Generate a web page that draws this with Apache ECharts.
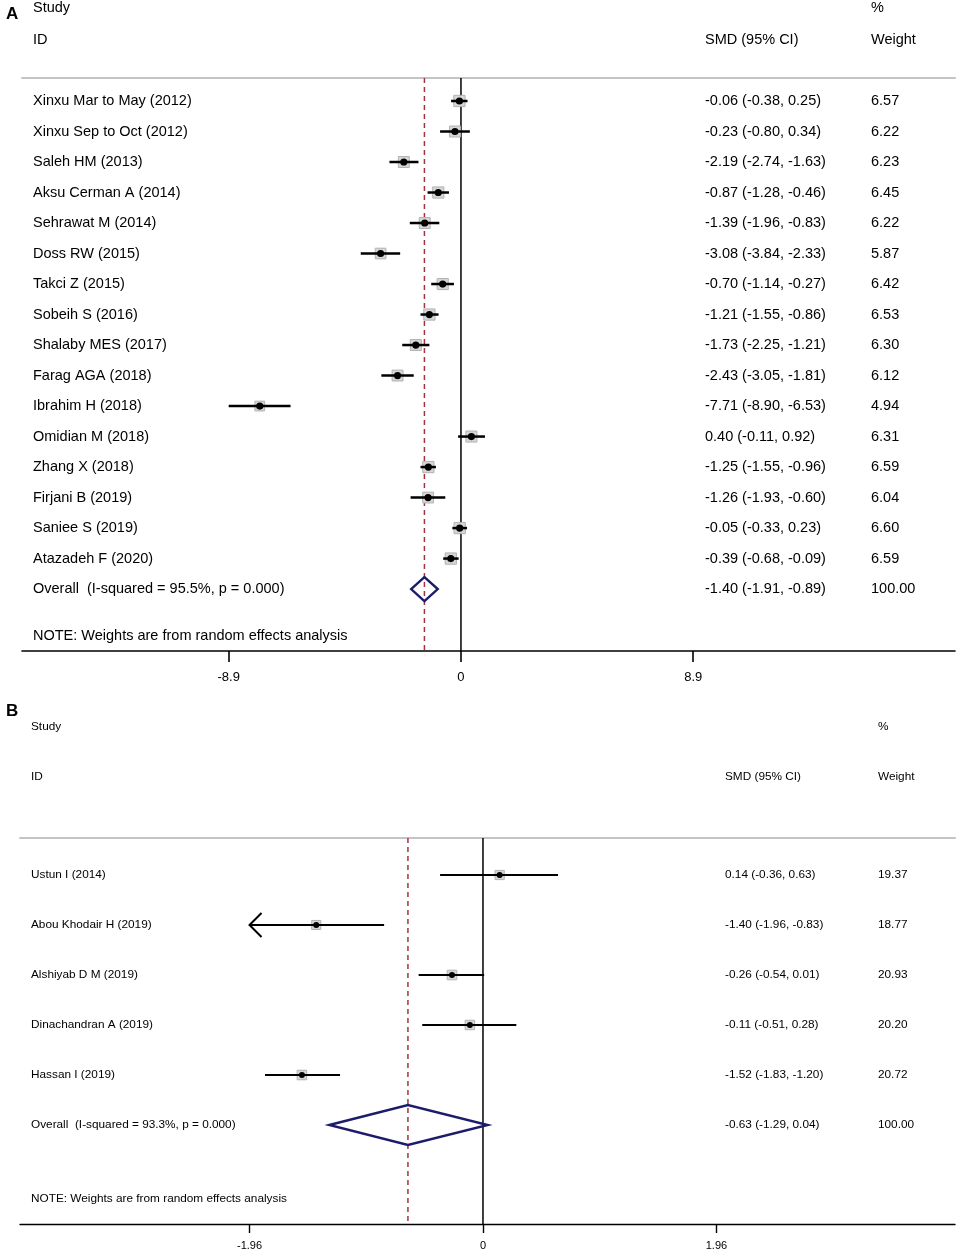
<!DOCTYPE html>
<html>
<head>
<meta charset="utf-8">
<script src="https://cdn.jsdelivr.net/npm/echarts@6.0.0/dist/echarts.min.js"></script>
<style>
  html, body { margin: 0; padding: 0; background: #fff; }
  #forest { width: 957px; height: 1252px; }
</style>
</head>
<body>
<div id="forest"></div>
<script>
// panel A - studies
const studyA = ['Xinxu Mar to May (2012)', 'Xinxu Sep to Oct (2012)', 'Saleh HM (2013)', 'Aksu Cerman A (2014)',
  'Sehrawat M (2014)', 'Doss RW (2015)', 'Takci Z (2015)', 'Sobeih S (2016)', 'Shalaby MES (2017)',
  'Farag AGA (2018)', 'Ibrahim H (2018)', 'Omidian M (2018)', 'Zhang X (2018)', 'Firjani B (2019)',
  'Saniee S (2019)', 'Atazadeh F (2020)'];
const smdA = [-0.06, -0.23, -2.19, -0.87, -1.39, -3.08, -0.70, -1.21, -1.73, -2.43, -7.71, 0.40, -1.25, -1.26, -0.05, -0.39];
const lowA = [-0.38, -0.80, -2.74, -1.28, -1.96, -3.84, -1.14, -1.55, -2.25, -3.05, -8.90, -0.11, -1.55, -1.93, -0.33, -0.68];
const highA = [0.25, 0.34, -1.63, -0.46, -0.83, -2.33, -0.27, -0.86, -1.21, -1.81, -6.53, 0.92, -0.96, -0.60, 0.23, -0.09];
const weightA = [6.57, 6.22, 6.23, 6.45, 6.22, 5.87, 6.42, 6.53, 6.30, 6.12, 4.94, 6.31, 6.59, 6.04, 6.60, 6.59];
const overallA = [-1.40, -1.91, -0.89];
const isqA = '95.5%';
const ticksA = [-8.9, 0, 8.9];

// panel B - studies
const studyB = ['Ustun I (2014)', 'Abou Khodair H (2019)', 'Alshiyab D M (2019)', 'Dinachandran A (2019)', 'Hassan I (2019)'];
const smdB = [0.14, -1.40, -0.26, -0.11, -1.52];
const lowB = [-0.36, -1.96, -0.54, -0.51, -1.83];
const highB = [0.63, -0.83, 0.01, 0.28, -1.20];
const weightB = [19.37, 18.77, 20.93, 20.20, 20.72];
const overallB = [-0.63, -1.29, 0.04];
const isqB = '93.3%';
const ticksB = [-1.96, 0, 1.96];

const FONT = 'Liberation Sans, Arial, sans-serif';

// layout of each panel (pixels)
const panels = [
  { name: 'A', names: studyA, smd: smdA, lo: lowA, hi: highA, wt: weightA, overall: overallA, isq: isqA, ticks: ticksA,
    grid: { left: 22, right: 2, top: 78, height: 573 },
    xMin: -16.82, xMax: 18.93, yMin: -0.754, yMax: 18.03,
    fs: 14.5, nameX: 33, ciX: 705, wX: 871, box: 4.4, lw: 2.5, dot: 3.6, dia: 12, clip: null,
    tickFs: 13, tickMargin: 20, tickLen: 11, axisW: 1.6,
    head: { letterY: 14, studyY: 8, idY: 40, noteY: 636 } },
  { name: 'B', names: studyB, smd: smdB, lo: lowB, hi: highB, wt: weightB, overall: overallB, isq: isqB, ticks: ticksB,
    grid: { left: 20, right: 2, top: 838, height: 386 },
    xMin: -3.887, xMax: 3.963, yMin: -0.74, yMax: 6.98,
    fs: 11.8, nameX: 31, ciX: 725, wX: 878, box: 2.1, lw: 2, dot: 3, dia: 20, clip: -1.96,
    tickFs: 11, tickMargin: 16, tickLen: 9, axisW: 1.4,
    head: { letterY: 711, studyY: 727, idY: 777, noteY: 1199 } }
];

function ciText(a, b, c) {
  return a.toFixed(2) + ' (' + b.toFixed(2) + ', ' + c.toFixed(2) + ')';
}

function txt(x, y, text, size, bold) {
  return {
    type: 'text', x: x, y: y,
    style: { text: text, fill: '#000', font: (bold ? 'bold ' : '') + size + 'px ' + FONT, verticalAlign: 'middle' }
  };
}

const grids = [], xAxes = [], yAxes = [], series = [], graphics = [];

panels.forEach(function (p, k) {
  grids.push(p.grid);
  // bottom axis
  xAxes.push({
    type: 'value', gridIndex: k, min: p.xMin, max: p.xMax, position: 'bottom',
    splitLine: { show: false },
    axisLine: { onZero: false, lineStyle: { color: '#000', width: p.axisW } },
    axisTick: { customValues: p.ticks, length: p.tickLen, lineStyle: { color: '#000', width: p.axisW } },
    axisLabel: { customValues: p.ticks, margin: p.tickMargin, color: '#000', fontSize: p.tickFs, fontFamily: FONT,
      formatter: function (v) { return String(v); } }
  });
  // top separator
  xAxes.push({
    type: 'value', gridIndex: k, min: p.xMin, max: p.xMax, position: 'top',
    splitLine: { show: false }, axisTick: { show: false }, axisLabel: { show: false },
    axisLine: { onZero: false, lineStyle: { color: '#c4c4c4', width: 2 } }
  });
  yAxes.push({ type: 'value', gridIndex: k, min: p.yMin, max: p.yMax, inverse: true, show: false });

  const n = p.names.length;
  const xi = k * 2;

  // overall row, null line and pooled-estimate line
  series.push({
    type: 'custom', xAxisIndex: xi, yAxisIndex: k, z: 1,
    data: [[n, p.overall[0], p.overall[1], p.overall[2]]],
    renderItem: function (params, api) {
      const row = api.value(0);
      const c = api.coord([api.value(1), row]);
      const l = api.coord([api.value(2), row]);
      const h = api.coord([api.value(3), row]);
      const z0 = api.coord([0, p.yMin]), z1 = api.coord([0, p.yMax]);
      const d0 = api.coord([api.value(1), p.yMin]), d1 = api.coord([api.value(1), p.yMax]);
      return {
        type: 'group',
        children: [
          { type: 'line', shape: { x1: z0[0], y1: z0[1], x2: z1[0], y2: z1[1] },
            style: { stroke: '#000', lineWidth: 1.5 } },
          { type: 'line', shape: { x1: d0[0], y1: d0[1], x2: d1[0], y2: d1[1] },
            style: { stroke: '#a3343f', lineWidth: 1.5, lineDash: [5, 4] } },
          { type: 'polygon', shape: { points: [[l[0], c[1]], [c[0], c[1] - p.dia], [h[0], c[1]], [c[0], c[1] + p.dia]] },
            style: { fill: 'rgba(0,0,0,0)', stroke: '#1c1c6c', lineWidth: 2.4 } },
          txt(p.nameX, c[1], 'Overall  (I-squared = ' + p.isq + ', p = 0.000)', p.fs),
          txt(p.ciX, c[1], ciText(api.value(1), api.value(2), api.value(3)), p.fs),
          txt(p.wX, c[1], '100.00', p.fs)
        ]
      };
    }
  });

  // study rows
  series.push({
    type: 'custom', xAxisIndex: xi, yAxisIndex: k, z: 2,
    data: p.names.map(function (nm, i) { return [i, p.smd[i], p.lo[i], p.hi[i], p.wt[i]]; }),
    renderItem: function (params, api) {
      const row = api.value(0);
      const i = params.dataIndex;
      const c = api.coord([api.value(1), row]);
      const l = api.coord([api.value(2), row]);
      const h = api.coord([api.value(3), row]);
      const s = p.box * Math.sqrt(api.value(4));
      const kids = [
        { type: 'rect', shape: { x: c[0] - s / 2, y: c[1] - s / 2, width: s, height: s },
          style: { fill: '#d6d6d6', stroke: '#b2b2b2', lineWidth: 1 } },
        { type: 'line', shape: { x1: l[0], y1: c[1], x2: h[0], y2: c[1] },
          style: { stroke: '#000', lineWidth: p.lw } },
        { type: 'circle', shape: { cx: c[0], cy: c[1], r: p.dot }, style: { fill: '#000' } },
        txt(p.nameX, c[1], p.names[i], p.fs),
        txt(p.ciX, c[1], ciText(api.value(1), api.value(2), api.value(3)), p.fs),
        txt(p.wX, c[1], api.value(4).toFixed(2), p.fs)
      ];
      if (p.clip !== null && api.value(2) <= p.clip) {
        kids.push({ type: 'polyline',
          shape: { points: [[l[0] + 12, c[1] - 12], [l[0], c[1]], [l[0] + 12, c[1] + 12]] },
          style: { fill: 'none', stroke: '#000', lineWidth: p.lw } });
      }
      return { type: 'group', children: kids };
    }
  });

  // headers and note
  const hd = p.head;
  graphics.push(txt(6, hd.letterY, p.name, 17, true));
  graphics.push(txt(p.nameX, hd.studyY, 'Study', p.fs));
  graphics.push(txt(p.nameX, hd.idY, 'ID', p.fs));
  graphics.push(txt(p.ciX, hd.idY, 'SMD (95% CI)', p.fs));
  graphics.push(txt(p.wX, hd.studyY, '%', p.fs));
  graphics.push(txt(p.wX, hd.idY, 'Weight', p.fs));
  graphics.push(txt(p.nameX, hd.noteY, 'NOTE: Weights are from random effects analysis', p.fs));
});

const chart = echarts.init(document.getElementById('forest'), null, { renderer: 'canvas' });
chart.setOption({
  animation: false,
  backgroundColor: '#fff',
  grid: grids,
  xAxis: xAxes,
  yAxis: yAxes,
  series: series,
  graphic: graphics
});
</script>
</body>
</html>
